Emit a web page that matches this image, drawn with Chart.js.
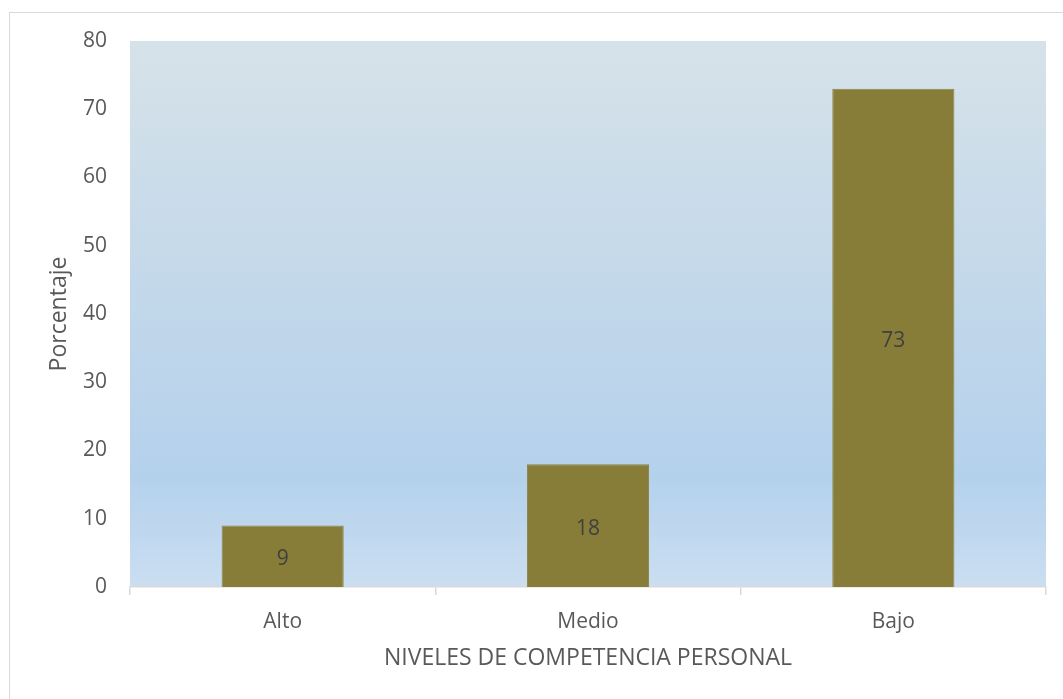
<!DOCTYPE html>
<html lang="es">
<head>
    <meta charset="UTF-8">
    <title>Niveles de competencia personal</title>
    <script src="https://cdn.jsdelivr.net/npm/chart.js"></script>
    <style>
        html, body { margin: 0; padding: 0; background: #ffffff; overflow: hidden; }
        .marco {
            position: absolute; left: 9px; top: 12px;
            width: 1100px; height: 750px;
            border: 1.5px solid #d9d9d9;
        }
        #barChart { position: absolute; left: 0; top: 0; }
    </style>
</head>
<body>
    <div class="marco"></div>
    <canvas id="barChart" width="1063" height="699"></canvas>

    <script>
        // Datos del gráfico
        const niveles = ["Alto", "Medio", "Bajo"];
        const porcentajes = [9, 18, 73];
        const ejeY = { min: 0, max: 80, paso: 10 };

        const fuente = "'Open Sans', sans-serif";

        // Fondo degradado del área de trazado
        const fondoArea = {
            id: 'fondoArea',
            beforeDraw(chart) {
                const { ctx, chartArea: a } = chart;
                const g = ctx.createLinearGradient(0, a.top, 0, a.bottom);
                g.addColorStop(0, '#d6e2e9');
                g.addColorStop(0.45, '#c3d8ea');
                g.addColorStop(0.8, '#b4d1ec');
                g.addColorStop(1, '#cbdef1');
                ctx.save();
                ctx.fillStyle = g;
                ctx.fillRect(a.left, a.top, a.right - a.left, a.bottom - a.top);
                ctx.restore();
            }
        };

        // Etiquetas de valor centradas dentro de cada barra
        const etiquetas = {
            id: 'etiquetas',
            afterDatasetsDraw(chart) {
                const { ctx } = chart;
                const meta = chart.getDatasetMeta(0);
                ctx.save();
                ctx.font = "21px " + fuente;
                ctx.fillStyle = '#404040';
                ctx.textAlign = 'center';
                ctx.textBaseline = 'middle';
                meta.data.forEach((bar, i) => {
                    const p = bar.getProps(['x', 'y', 'base'], true);
                    ctx.fillText(porcentajes[i], p.x, (p.y + p.base) / 2 + 3);
                });
                ctx.restore();
            }
        };

        const ctx = document.getElementById('barChart').getContext('2d');
        new Chart(ctx, {
            type: 'bar',
            data: {
                labels: niveles,
                datasets: [{
                    data: porcentajes,
                    backgroundColor: '#877d38',
                    borderColor: '#8c8442',
                    borderWidth: 1,
                    categoryPercentage: 1,
                    barPercentage: 0.4
                }]
            },
            plugins: [fondoArea, etiquetas],
            options: {
                responsive: false,
                animation: false,
                layout: { padding: { left: 0, top: 41, right: 17, bottom: 0 } },
                plugins: {
                    legend: { display: false },
                    tooltip: { enabled: false }
                },
                scales: {
                    x: {
                        grid: {
                            offset: true,
                            drawOnChartArea: false,
                            tickLength: 8,
                            color: '#d9d9d9',
                            lineWidth: 1.5
                        },
                        border: { color: '#d9d9d9', width: 1.5 },
                        ticks: { color: '#595959', font: { family: fuente, size: 21 }, padding: 14 },
                        title: {
                            display: true,
                            text: 'NIVELES DE COMPETENCIA PERSONAL',
                            color: '#595959',
                            font: { family: fuente, size: 23 },
                            padding: { top: 0, bottom: 27 }
                        },
                        afterFit(scale) { scale.height = 112; }
                    },
                    y: {
                        min: ejeY.min,
                        max: ejeY.max,
                        grid: { display: false, drawTicks: false },
                        border: { display: false },
                        ticks: {
                            stepSize: ejeY.paso,
                            color: '#595959',
                            font: { family: fuente, size: 21 },
                            padding: 23
                        },
                        title: {
                            display: true,
                            text: 'Porcentaje',
                            color: '#595959',
                            font: { family: fuente, size: 23 },
                            padding: { top: 46, bottom: 0 }
                        },
                        afterFit(scale) { scale.width = 130; }
                    }
                }
            }
        });
    </script>
</body>
</html>
